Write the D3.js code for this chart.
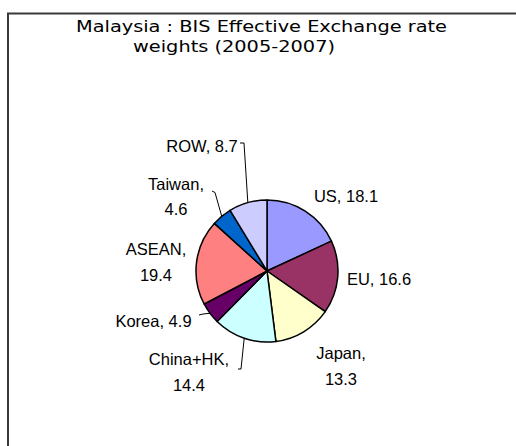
<!DOCTYPE html>
<html>
<head>
<meta charset="utf-8">
<script src="https://cdn.jsdelivr.net/npm/d3@7"></script>
<style>
  html, body { margin: 0; padding: 0; background: #fff; }
</style>
</head>
<body>
<div id="chart"></div>
<script>
// data, clockwise from 12 o'clock
var names   = ["US", "EU", "Japan", "China+HK", "Korea", "ASEAN", "Taiwan", "ROW"];
var weights = [18.1, 16.6, 13.3, 14.4, 4.9, 19.4, 4.6, 8.7];
var colors  = ["#9999FF", "#993366", "#FFFFCC", "#CCFFFF", "#660066", "#FF8080", "#0066CC", "#CCCCFF"];
var titleLines = ["Malaysia : BIS Effective Exchange rate", "weights (2005-2007)"];

// label layout: text block centre x, first baseline, line split, leader elbow
var labelLayout = {
  "US":       {x: 346, y: 201.5, split: false},
  "EU":       {x: 379, y: 285,   split: false},
  "Japan":    {x: 341, y: 359,   split: true},
  "China+HK": {x: 189, y: 365,   split: true, leader: [[238, 369], [241, 369]]},
  "Korea":    {x: 153.5, y: 326.5, split: false, leader: [[199, 315], [203, 314]]},
  "ASEAN":    {x: 156, y: 255,   split: true},
  "Taiwan":   {x: 176, y: 189.5, split: true, leader: [[212, 191], [215, 192.5]]},
  "ROW":      {x: 202, y: 152,   split: false, leader: [[240, 143], [244, 143]]}
};

var W = 516, H = 446;
var cx = 267, cy = 271, R = 71;

var svg = d3.select("#chart").append("svg")
  .attr("width", W)
  .attr("height", H);

svg.append("rect")
  .attr("x", 8).attr("y", 13.5)
  .attr("width", 600).attr("height", 600)
  .attr("fill", "#fff")
  .attr("stroke", "#3a3a3a")
  .attr("stroke-width", 2);

// title
var tfont = "'DejaVu Sans', 'Noto Sans', sans-serif";
var tpos = [{x: 76, y: 31.5, w: 371}, {x: 133, y: 51.5, w: 202}];
svg.selectAll("text.title")
  .data(titleLines)
  .enter().append("text")
  .attr("class", "title")
  .attr("x", function(d, i) { return tpos[i].x; })
  .attr("y", function(d, i) { return tpos[i].y; })
  .attr("textLength", function(d, i) { return tpos[i].w; })
  .attr("lengthAdjust", "spacingAndGlyphs")
  .style("font-family", tfont)
  .style("font-size", "16px")
  .attr("fill", "#000")
  .text(function(d) { return d; });

var data = names.map(function(n, i) { return {name: n, value: weights[i], color: colors[i]}; });

var pie = d3.pie().sort(null).value(function(d) { return d.value; });
var arcs = pie(data);
var arc = d3.arc().innerRadius(0).outerRadius(R);
var edge = d3.arc().innerRadius(R).outerRadius(R);

var g = svg.append("g").attr("transform", "translate(" + cx + "," + cy + ")");

g.selectAll("path.slice")
  .data(arcs)
  .enter().append("path")
  .attr("class", "slice")
  .attr("d", arc)
  .attr("fill", function(d) { return d.data.color; })
  .attr("stroke", "#000")
  .attr("stroke-width", 1.5)
  .attr("stroke-linejoin", "round");

// leader lines
arcs.forEach(function(a) {
  var L = labelLayout[a.data.name];
  if (!L.leader) return;
  var p = edge.centroid(a);
  var pts = L.leader.map(function(q) { return [q[0], q[1]]; });
  pts.push([p[0] + cx, p[1] + cy]);
  svg.append("path")
    .attr("d", d3.line()(pts))
    .attr("fill", "none")
    .attr("stroke", "#000")
    .attr("stroke-width", 1);
});

// labels
var lfont = "'Liberation Sans', Arial, sans-serif";
arcs.forEach(function(a) {
  var L = labelLayout[a.data.name];
  var lines = L.split ? [a.data.name + ",", String(a.data.value)] : [a.data.name + ", " + a.data.value];
  var t = svg.append("text")
    .attr("text-anchor", "middle")
    .style("font-family", lfont)
    .style("font-size", "16.5px")
    .attr("fill", "#000");
  lines.forEach(function(s, i) {
    t.append("tspan")
      .attr("x", L.x)
      .attr("y", L.y + i * 25.7)
      .text(s);
  });
});
</script>
</body>
</html>
